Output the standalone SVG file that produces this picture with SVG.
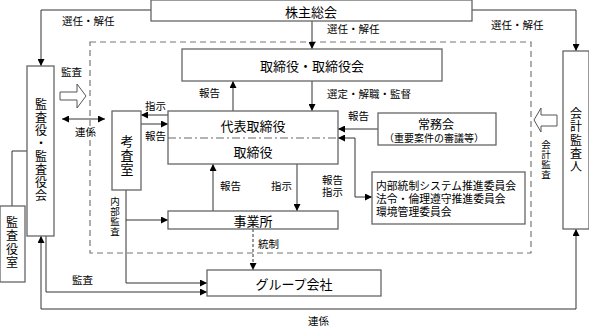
<svg xmlns="http://www.w3.org/2000/svg" width="589" height="326" viewBox="0 0 589 326">
<style>
text{font-family:"Noto Sans CJK JP","Noto Sans",sans-serif;fill:#000}
.box{fill:#fff;stroke:#666;stroke-width:1.3}
.t{font-size:13px;text-anchor:middle;dominant-baseline:central}
.l{font-size:10.5px;dominant-baseline:central}
.c{fill:none;stroke:#333;stroke-width:1}
.v{writing-mode:vertical-rl;text-orientation:upright}
</style>
<defs>
<marker id="ah" viewBox="0 0 10 10" refX="10" refY="5" markerWidth="7" markerHeight="7" markerUnits="userSpaceOnUse" orient="auto-start-reverse">
<path d="M0,0 L10,5 L0,10 Z" fill="#000"/>
</marker>
</defs>
<rect x="90" y="42" width="441" height="211" fill="none" stroke="#777" stroke-width="1.2" stroke-dasharray="6,4"/>
<g id="connectors">
<path class="c" d="M151,10 H41 V66" marker-end="url(#ah)"/>
<path class="c" d="M472,10 H576 V51" marker-end="url(#ah)"/>
<path class="c" d="M312,21 V49" marker-end="url(#ah)"/>
<path class="c" d="M233,111 V81" marker-end="url(#ah)"/>
<path class="c" d="M312,81 V111" marker-end="url(#ah)"/>
<path class="c" d="M168,115 H141" marker-end="url(#ah)"/>
<path class="c" d="M141,124 H168" marker-end="url(#ah)"/>
<path class="c" d="M378,129 H338" marker-end="url(#ah)"/>
<path class="c" d="M338,138 H355 V197 H372" marker-start="url(#ah)" marker-end="url(#ah)"/>
<path class="c" d="M213,211 V164" marker-end="url(#ah)"/>
<path class="c" d="M297,164 V211" marker-end="url(#ah)"/>
<path class="c" d="M126,190 V283 H207" marker-end="url(#ah)"/>
<path class="c" d="M126,220 H168" marker-end="url(#ah)"/>
<path class="c" d="M253,229 V270" stroke-dasharray="3,2" marker-end="url(#ah)"/>
<path class="c" d="M46,236 V292 H207" marker-end="url(#ah)"/>
<path class="c" d="M576,229 V309 H41 V236" marker-start="url(#ah)" marker-end="url(#ah)"/>
<path class="c" d="M62,119 H105" marker-start="url(#ah)" marker-end="url(#ah)"/>
<path class="c" d="M12,206 V151 H27"/>
<polygon points="60,92 77,92 77,84 86,96 77,108 77,100 60,100" fill="#fff" stroke="#555" stroke-width="1"/>
<polygon points="557,115 541,115 541,108 534,120 541,132 541,126 557,126" fill="#fff" stroke="#555" stroke-width="1"/>
</g>
<g id="labels">
<text class="l" x="62" y="20">選任・解任</text>
<text class="l" x="327" y="28">選任・解任</text>
<text class="l" x="491" y="24">選任・解任</text>
<text class="l" x="199" y="92">報告</text>
<text class="l" x="327" y="93">選定・解職・監督</text>
<text class="l" x="61" y="71">監査</text>
<text class="l" x="75" y="131">連係</text>
<text class="l" x="145" y="105">指示</text>
<text class="l" x="145" y="135">報告</text>
<text class="l" x="348" y="115">報告</text>
<text class="l" x="322" y="179">報告</text>
<text class="l" x="322" y="191">指示</text>
<text class="l" x="220" y="185">報告</text>
<text class="l" x="271" y="185">指示</text>
<text class="l" x="258" y="243">統制</text>
<text class="l" x="72" y="279">監査</text>
<text class="l" x="308" y="320">連係</text>
<text class="v" x="546" y="140" style="font-size:9.5px;letter-spacing:0.5px">会計監査</text>
<text class="v" x="115" y="197" style="font-size:9.5px;letter-spacing:0.5px">内部監査</text>
</g>
<g id="kabunushi"><rect class="box" x="151" y="0" width="321" height="21"/><text class="t" x="311" y="11">株主総会</text></g>
<g id="torishimariyakukai"><rect class="box" x="182" y="49" width="260" height="32"/><text class="t" x="312" y="65">取締役・取締役会</text></g>
<g id="daihyo"><rect class="box" x="168" y="111" width="170" height="53"/>
<line x1="168" y1="138" x2="338" y2="138" stroke="#666" stroke-width="1" stroke-dasharray="8,3,2,3"/>
<text class="t" x="253" y="125">代表取締役</text><text class="t" x="253" y="151">取締役</text></g>
<g id="kosashitsu"><rect class="box" x="112" y="111" width="29" height="79"/>
<text class="v" x="127" y="135" style="font-size:13px;letter-spacing:1px">考査室</text></g>
<g id="kansayaku"><rect class="box" x="27" y="66" width="27" height="170"/>
<text class="v" x="41" y="98.5" style="font-size:12px;letter-spacing:1px">監査役・監査役会</text></g>
<g id="kansayakushitsu"><rect class="box" x="0" y="206" width="25" height="76"/>
<text class="v" x="12" y="216" style="font-size:12px;letter-spacing:1.5px">監査役室</text></g>
<g id="kaikei"><rect class="box" x="563" y="51" width="26" height="178"/>
<text class="v" x="576" y="107.5" style="font-size:12px;letter-spacing:1.3px">会計監査人</text></g>
<g id="jomukai"><rect class="box" x="378" y="113" width="118" height="32"/>
<text class="t" x="436" y="123" style="font-size:12px">常務会</text><text class="t" x="434" y="137" style="font-size:10px">（重要案件の審議等）</text></g>
<g id="iinkai"><rect class="box" x="372" y="172" width="153" height="52"/>
<text class="l" x="376" y="185" style="font-size:10.8px">内部統制システム推進委員会</text>
<text class="l" x="376" y="198" style="font-size:10.8px">法令・倫理遵守推進委員会</text>
<text class="l" x="376" y="211" style="font-size:10.8px">環境管理委員会</text></g>
<g id="jigyosho"><rect class="box" x="168" y="211" width="170" height="18"/><text class="t" x="253" y="220">事業所</text></g>
<g id="group"><rect class="box" x="207" y="270" width="174" height="26"/><text class="t" x="294" y="283">グループ会社</text></g>
</svg>
